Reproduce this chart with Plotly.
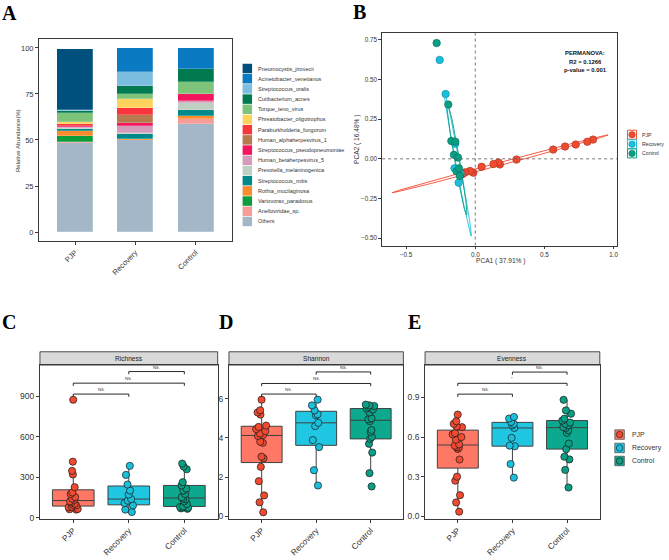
import numpy as np
import plotly.graph_objects as go

W, H = 669, 560
FONT = "Liberation Sans"
SERIF = "Liberation Serif"
INK = "#333333"

# ---------------- data ----------------
groups = ["PJP", "Recovery", "Control"]
group_colors = ["#F04A31", "#1ABFDC", "#0A9E84"]
group_fill = ["rgba(255,100,80,0.88)", "rgba(20,196,224,0.95)", "rgba(0,164,136,0.95)"]
point_edge = ["#A8321F", "#10869C", "#07705D"]

# Panel A: species (legend order, top to bottom) and relative abundance (%)
species = ["Pneumocystis_jirovecii", "Acinetobacter_venetianus", "Streptococcus_oralis",
           "Cutibacterium_acnes", "Torque_teno_virus", "Phreatobacter_oligotrophus",
           "Paraburkholderia_fungorum", "Human_alphaherpesvirus_1",
           "Streptococcus_pseudopneumoniae", "Human_betaherpesvirus_5",
           "Prevotella_melaninogenica", "Streptococcus_mitis", "Rothia_mucilaginosa",
           "Variovorax_paradoxus", "Anelloviridae_sp.", "Others"]
species_colors = ["#00507D", "#0A7BC2", "#7BBEDF", "#007A4E", "#7DC47A", "#FDD35E",
                  "#F8343C", "#B67A4E", "#F4155E", "#D39CBA", "#BFCFC2", "#00898A",
                  "#FA8C2D", "#0C9E3C", "#F79D99", "#A3B7C8"]
abund_PJP = [33.0, 0.3, 0.3, 1.3, 5.0, 0.8, 1.2, 0.2, 0.2, 0.7, 0.6, 0.9, 2.9, 3.0, 0.6, 48.7]
abund_Recovery = [0.0, 12.8, 7.5, 4.7, 2.5, 4.7, 4.1, 4.1, 1.6, 3.8, 0.9, 2.5, 0.5, 0.1, 0.2, 50.0]
abund_Control = [0.0, 11.5, 0.0, 6.6, 6.5, 0.0, 0.0, 0.0, 3.9, 1.4, 3.4, 3.3, 1.6, 0.0, 3.0, 58.8]

# Panel B: PCA scores
pca_PJP_x = [0.851, 0.810, 0.726, 0.649, 0.563, 0.298, 0.178, 0.168, 0.132, 0.046, -0.014, -0.038, -0.072, -0.090]
pca_PJP_y = [0.121, 0.108, 0.090, 0.077, 0.058, -0.005, -0.035, -0.023, -0.033, -0.050, -0.087, -0.077, -0.085, -0.095]
pca_Recovery_x = [-0.257, -0.214, -0.145, -0.150, -0.106, -0.120]
pca_Recovery_y = [0.623, 0.408, 0.095, -0.060, -0.096, -0.150]
pca_Control_x = [-0.279, -0.195, -0.173, -0.144, -0.154, -0.125, -0.135, -0.111, -0.118]
pca_Control_y = [0.729, 0.342, 0.112, 0.108, 0.025, 0.008, -0.079, -0.108, -0.060]
# confidence ellipses: centre, major semi-axis vector, minor semi-axis vector
ell_center = [(0.180, -0.0315), (-0.1265, -0.030), (-0.1335, 0.005)]
ell_major = [(0.780, 0.1815), (0.0975, -0.4573), (0.0705, -0.359)]
ell_minor = [(-0.0028, 0.0091), (0.0142, 0.0023), (0.0178, 0.0026)]
permanova = ["PERMANOVA:", "R2 = 0.1266", "p-value = 0.001"]

# Panels C-E: alpha diversity
richness = {
    "PJP": [873, 414, 346, 319, 225, 186, 174, 152, 140, 132, 120, 115, 103, 95, 90, 80, 76, 64, 59, 62],
    "Recovery": [383, 316, 245, 200, 170, 137, 125, 107, 90, 59, 41],
    "Control": [400, 378, 358, 262, 238, 215, 200, 175, 150, 140, 135, 120, 100, 82, 78, 72, 68, 65],
}
shannon = {
    "PJP": [5.95, 5.41, 5.30, 5.19, 4.63, 4.56, 4.45, 4.35, 4.22, 4.15, 4.10, 3.80, 3.75, 3.04, 2.96, 2.52, 1.79, 1.06, 0.71, 0.20],
    "Recovery": [5.95, 5.66, 5.41, 5.21, 5.15, 4.77, 4.60, 3.89, 3.53, 2.35, 1.57],
    "Control": [5.70, 5.66, 5.63, 5.58, 5.50, 5.45, 5.30, 5.00, 4.95, 4.85, 4.40, 4.30, 4.05, 3.95, 3.70, 3.25, 2.20, 1.52],
}
evenness = {
    "PJP": [0.77, 0.72, 0.70, 0.68, 0.675, 0.63, 0.62, 0.60, 0.58, 0.545, 0.535, 0.525, 0.52, 0.51, 0.43, 0.30, 0.27, 0.16, 0.105, 0.035],
    "Recovery": [0.752, 0.74, 0.715, 0.70, 0.689, 0.669, 0.594, 0.535, 0.53, 0.396, 0.293],
    "Control": [0.882, 0.802, 0.777, 0.739, 0.725, 0.71, 0.70, 0.689, 0.675, 0.668, 0.652, 0.632, 0.551, 0.509, 0.451, 0.431, 0.351, 0.218],
}
bracket_pairs = [(0, 1), (0, 2), (1, 2)]
richness_brackets = [915, 996, 1082]
shannon_brackets = [6.24, 6.78, 7.37]
evenness_brackets = [0.925, 1.007, 1.092]
richness_labels = ["NS.", "NS.", "NS."]
shannon_labels = ["NS.", "NS.", "NS."]
evenness_labels = ["NS.", "*", "NS."]

# ---------------- helpers ----------------
def xd(l, r):
    return [l / W, r / W]

def yd(t, b):
    return [1 - b / H, 1 - t / H]

def axis_style(size):
    return dict(showline=True, mirror=True, linecolor="#3A3A3A", linewidth=0.9,
                ticks="outside", ticklen=3, tickwidth=0.8, tickcolor="#3A3A3A",
                showgrid=False, zeroline=False,
                tickfont=dict(family=FONT, size=size, color=INK))

fig = go.Figure()
annotations = []
shapes = []

# ---------------- Panel A ----------------
for i in reversed(range(len(species))):
    fig.add_trace(go.Bar(
        x=[0, 1, 2], y=[abund_PJP[i], abund_Recovery[i], abund_Control[i]],
        marker=dict(color=species_colors[i], line=dict(color="rgba(255,255,255,0.55)", width=0.4)),
        width=0.6, xaxis="x", yaxis="y", showlegend=False, name=species[i]))

# legend of panel A (drawn in overlay pixel axis)
legA_y = [69 + k * 10.27 for k in range(len(species))]
fig.add_trace(go.Scatter(x=[247.7] * len(species), y=legA_y, mode="markers",
                         marker=dict(symbol="square", size=9.5, color=species_colors),
                         xaxis="x6", yaxis="y6", showlegend=False, hoverinfo="skip"))
for name, yy in zip(species, legA_y):
    annotations.append(dict(text=name, x=256 / W, y=1 - yy / H, xref="paper", yref="paper",
                            xanchor="left", yanchor="middle", showarrow=False,
                            font=dict(family=FONT, size=5.5, color=INK)))

# ---------------- Panel B ----------------
pca_x = [pca_PJP_x, pca_Recovery_x, pca_Control_x]
pca_y = [pca_PJP_y, pca_Recovery_y, pca_Control_y]
t = np.linspace(0, 2 * np.pi, 181)
for g in range(3):
    cx, cy = ell_center[g]
    mx, my = ell_major[g]
    nx, ny = ell_minor[g]
    ex = cx + mx * np.cos(t) + nx * np.sin(t)
    ey = cy + my * np.cos(t) + ny * np.sin(t)
    fig.add_trace(go.Scatter(x=ex, y=ey, mode="lines", fill="toself",
                             fillcolor="rgba(255,255,255,0)",
                             line=dict(color=group_colors[g], width=0.9),
                             xaxis="x2", yaxis="y2", showlegend=False, hoverinfo="skip"))
for g in range(3):
    fig.add_trace(go.Scatter(x=pca_x[g], y=pca_y[g], mode="markers",
                             marker=dict(size=7.5, color=group_colors[g],
                                         line=dict(color=point_edge[g], width=0.6)),
                             xaxis="x2", yaxis="y2", showlegend=False, name=groups[g]))
shapes.append(dict(type="line", xref="x2", yref="y2 domain", x0=0, x1=0, y0=0, y1=1,
                   line=dict(color="#555555", width=0.8, dash="dot")))
shapes.append(dict(type="line", xref="x2 domain", yref="y2", x0=0, x1=1, y0=0, y1=0,
                   line=dict(color="#555555", width=0.8, dash="dot")))
for k, txt in enumerate(permanova):
    annotations.append(dict(text="<b>" + txt + "</b>", x=586 / W, y=1 - (53 + 9 * k) / H,
                            xref="paper", yref="paper", xanchor="center", yanchor="middle",
                            showarrow=False, font=dict(family=FONT, size=5.9, color="#111111")))
# legend of panel B
legB_y = [135.7, 145.3, 154.5]
fig.add_trace(go.Scatter(x=[633] * 3, y=legB_y, mode="markers",
                         marker=dict(symbol="square", size=9, color="rgba(255,255,255,0.6)",
                                     line=dict(color=group_colors, width=1)),
                         xaxis="x6", yaxis="y6", showlegend=False, hoverinfo="skip"))
fig.add_trace(go.Scatter(x=[633] * 3, y=legB_y, mode="markers",
                         marker=dict(size=6.5, color=group_colors, line=dict(color=point_edge, width=0.5)),
                         xaxis="x6", yaxis="y6", showlegend=False, hoverinfo="skip"))
for name, yy in zip(groups, legB_y):
    annotations.append(dict(text=name, x=641 / W, y=1 - yy / H, xref="paper", yref="paper",
                            xanchor="left", yanchor="middle", showarrow=False,
                            font=dict(family=FONT, size=5.2, color=INK)))
annotations.append(dict(text="PCA1 ( 37.91% )", x=501 / W, y=1 - 262.5 / H, xref="paper", yref="paper",
                        xanchor="center", yanchor="middle", showarrow=False,
                        font=dict(family=FONT, size=6.6, color=INK)))
annotations.append(dict(text="PCA2 ( 16.48% )", x=357.5 / W, y=1 - 140 / H, xref="paper", yref="paper",
                        xanchor="center", yanchor="middle", showarrow=False, textangle=-90,
                        font=dict(family=FONT, size=6.6, color=INK)))
annotations.append(dict(text="Relative Abundance(%)", x=18 / W, y=1 - 141 / H, xref="paper", yref="paper",
                        xanchor="center", yanchor="middle", showarrow=False, textangle=-90,
                        font=dict(family=FONT, size=6, color=INK)))

# ---------------- Panels C-E ----------------
panels = [
    ("x3", "y3", richness, richness_brackets, richness_labels, "Richness", [-7.5, 1130], (40, 218)),
    ("x4", "y4", shannon, shannon_brackets, shannon_labels, "Shannon", [-0.12, 7.72], (229.3, 404)),
    ("x5", "y5", evenness, evenness_brackets, evenness_labels, "Evenness", [-0.017, 1.145], (425.7, 600.7)),
]
STRIP_T, STRIP_B, PANEL_B = 354.3, 367.7, 522.3
for xa, ya, data, heights, labels, title, yr, (l, r) in panels:
    for g, grp in enumerate(groups):
        fig.add_trace(go.Box(
            y=data[grp], x0=g, width=0.75, name=grp,
            boxpoints="all", jitter=0.28, pointpos=0, whiskerwidth=0,
            fillcolor=group_fill[g], line=dict(color="#404040", width=1),
            marker=dict(size=7.2, color=group_colors[g], line=dict(color="#1a1a1a", width=0.7)),
            xaxis=xa, yaxis=ya, showlegend=False))
    drop = 2.7 * (yr[1] - yr[0]) / (PANEL_B - STRIP_B)
    for (i, j), h, lab in zip(bracket_pairs, heights, labels):
        fig.add_trace(go.Scatter(x=[i, i, j, j], y=[h - drop, h, h, h - drop], mode="lines",
                                 line=dict(color="#111111", width=0.9),
                                 xaxis=xa, yaxis=ya, showlegend=False, hoverinfo="skip"))
        annotations.append(dict(text=lab, x=(i + j) / 2, y=h, xref=xa, yref=ya,
                                xanchor="center", yanchor="bottom", yshift=0, showarrow=False,
                                font=dict(family=FONT, size=4.2, color=INK)))
    shapes.append(dict(type="rect", xref="paper", yref="paper", x0=l / W, x1=r / W,
                       y0=1 - STRIP_B / H, y1=1 - STRIP_T / H, fillcolor="#D9D9D9",
                       line=dict(color="#3A3A3A", width=0.9), layer="below"))
    annotations.append(dict(text=title, x=(l + r) / 2 / W, y=1 - (STRIP_T + STRIP_B) / 2 / H,
                            xref="paper", yref="paper", xanchor="center", yanchor="middle",
                            showarrow=False, font=dict(family=FONT, size=6.6, color="#1a1a1a")))

# legend of panel E
legE_y = [437.7, 451.2, 464.3]
fig.add_trace(go.Scatter(x=[620.5] * 3, y=legE_y, mode="markers",
                         marker=dict(symbol="square", size=9.5, color=group_fill,
                                     line=dict(color="#555555", width=0.8)),
                         xaxis="x6", yaxis="y6", showlegend=False, hoverinfo="skip"))
fig.add_trace(go.Scatter(x=[620.5] * 3, y=legE_y, mode="markers",
                         marker=dict(size=6.5, color=group_colors, line=dict(color="#1a1a1a", width=0.6)),
                         xaxis="x6", yaxis="y6", showlegend=False, hoverinfo="skip"))
for name, yy in zip(groups, legE_y):
    annotations.append(dict(text=name, x=630.5 / W, y=1 - yy / H, xref="paper", yref="paper",
                            xanchor="left", yanchor="middle", showarrow=False,
                            font=dict(family=FONT, size=6.9, color=INK)))

# panel letters
for letter, (px, py) in zip("ABCDE", [(10, 13.5), (360, 12.5), (9, 324.5), (226, 324.5), (415, 324.5)]):
    annotations.append(dict(text="<b>" + letter + "</b>", x=px / W, y=1 - py / H, xref="paper", yref="paper",
                            xanchor="center", yanchor="middle", showarrow=False,
                            font=dict(family=SERIF, size=20, color="#000000")))

# ---------------- layout ----------------
xcat = dict(tickvals=[0, 1, 2], ticktext=groups, tickangle=-45, range=[-0.6, 2.6])
layout = dict(
    width=W, height=H, margin=dict(l=0, r=0, t=0, b=0),
    paper_bgcolor="white", plot_bgcolor="rgba(0,0,0,0)",
    barmode="stack", bargap=0, showlegend=False,
    annotations=annotations, shapes=shapes,
    xaxis=dict(domain=xd(39, 232), anchor="y", **xcat, **axis_style(7.5)),
    yaxis=dict(domain=yd(39, 243), anchor="x", range=[-5, 105], tickvals=[0, 25, 50, 75, 100], **axis_style(7.5)),
    xaxis2=dict(domain=xd(382.7, 618.3), anchor="y2", range=[-0.673, 1.027], tickvals=[-0.5, 0, 0.5, 1.0],
                tickformat=".1f", **axis_style(6.3)),
    yaxis2=dict(domain=yd(33.3, 247.3), anchor="x2", range=[-0.546, 0.792],
                tickvals=[-0.5, -0.25, 0, 0.25, 0.5, 0.75], tickformat=".2f", **axis_style(6.3)),
    xaxis3=dict(domain=xd(40, 218), anchor="y3", **xcat, **axis_style(8.3)),
    yaxis3=dict(domain=yd(STRIP_B, PANEL_B), anchor="x3", range=[-7.5, 1130], tickvals=[0, 300, 600, 900], **axis_style(8.5)),
    xaxis4=dict(domain=xd(229.3, 404), anchor="y4", **xcat, **axis_style(8.3)),
    yaxis4=dict(domain=yd(STRIP_B, PANEL_B), anchor="x4", range=[-0.12, 7.72], tickvals=[0, 2, 4, 6], **axis_style(8.5)),
    xaxis5=dict(domain=xd(425.7, 600.7), anchor="y5", **xcat, **axis_style(8.3)),
    yaxis5=dict(domain=yd(STRIP_B, PANEL_B), anchor="x5", range=[-0.017, 1.145], tickvals=[0, 0.3, 0.6, 0.9],
                tickformat=".1f", **axis_style(8.5)),
    xaxis6=dict(domain=[0, 1], anchor="y6", range=[0, W], visible=False, fixedrange=True),
    yaxis6=dict(domain=[0, 1], anchor="x6", range=[H, 0], visible=False, fixedrange=True),
)
fig.update_layout(**layout)
fig.write_html("out.html", config={"displayModeBar": False},
               post_script="document.body.style.margin='0';document.body.style.overflow='hidden';")
